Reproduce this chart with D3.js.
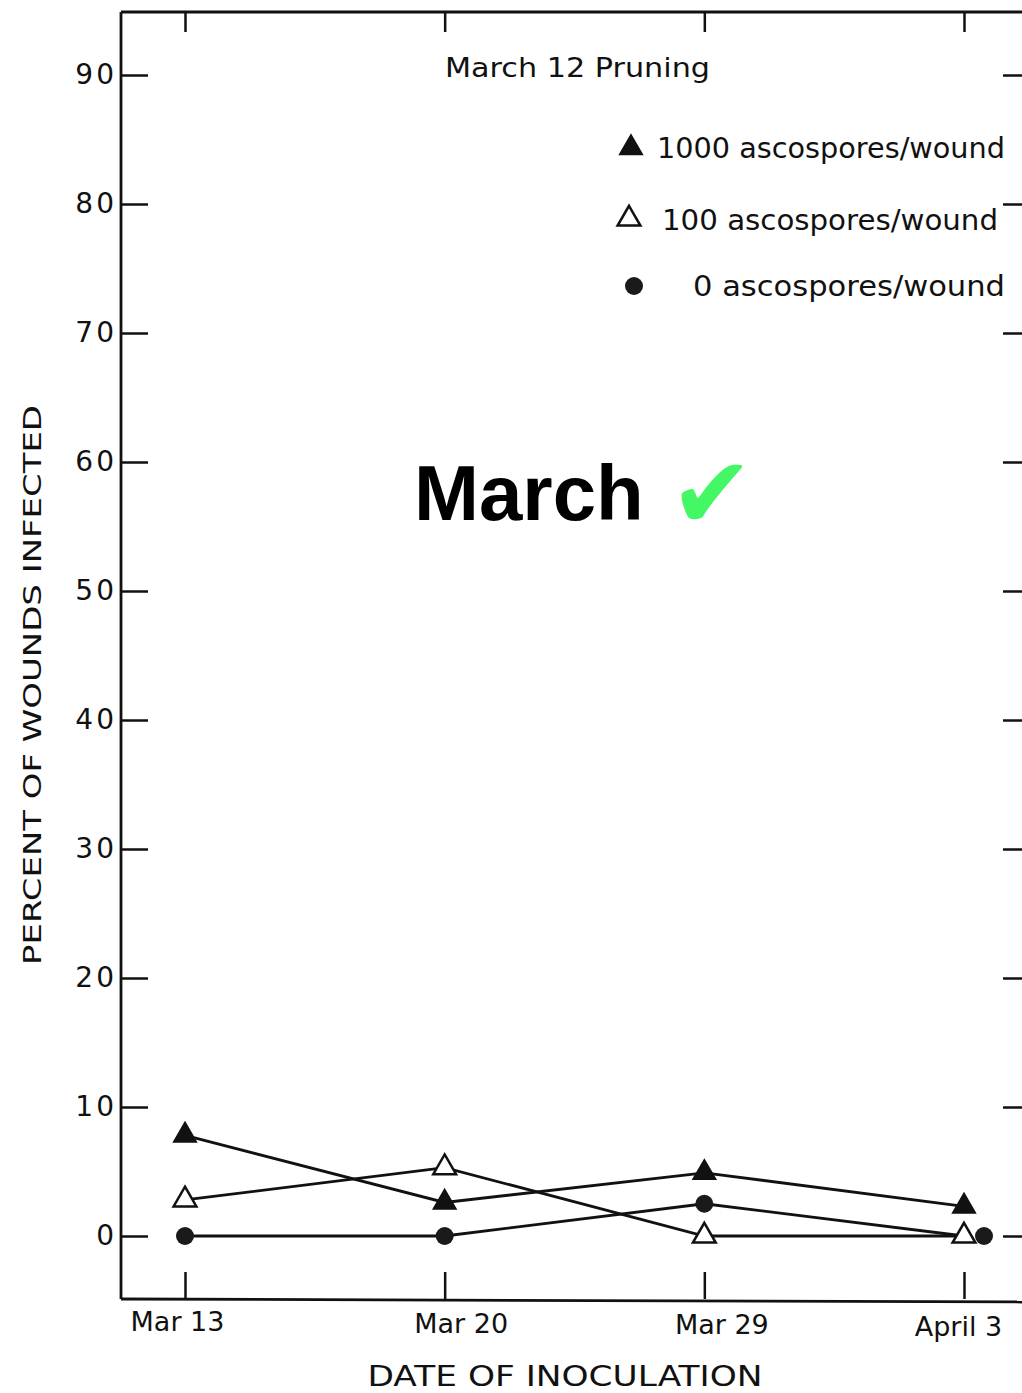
<!DOCTYPE html>
<html>
<head>
<meta charset="utf-8">
<script src="https://cdn.jsdelivr.net/npm/d3@7"></script>
<style>
  html, body { margin: 0; padding: 0; background: #fff; }
  svg { display: block; }
</style>
</head>
<body>
<svg id="chart" width="1022" height="1393"></svg>
<script>
// ---- data ----
const dates = ["Mar 13", "Mar 20", "Mar 29", "April 3"];
const yTicks = [0, 10, 20, 30, 40, 50, 60, 70, 80, 90];
const s1000 = [7.8, 2.6, 4.9, 2.3];
const s100 = [2.8, 5.3, 0, 0];
const s0 = [0, 0, 2.5, 0];
const seriesNames = ["1000 ascospores/wound", "100 ascospores/wound", "0 ascospores/wound"];
const title = "March 12  Pruning";
const yTitle = "PERCENT OF WOUNDS INFECTED";
const xTitle = "DATE  OF  INOCULATION";
const stamp = "March";

const svg = d3.select("#chart");
const font = "'DejaVu Sans', sans-serif";
const L = 121, R = 1026, T = 12, B = 1299;

const x = d3.scalePoint().domain(dates).range([185, 964]);
const y = d3.scaleLinear().domain([0, 90]).range([1236, 75]);

// frame
svg.append("line").attr("x1", L).attr("x2", L).attr("y1", T).attr("y2", B)
  .attr("stroke", "#111").attr("stroke-width", 2.8);
svg.append("line").attr("x1", L).attr("x2", R).attr("y1", T).attr("y2", T)
  .attr("stroke", "#111").attr("stroke-width", 2.8);
svg.append("line").attr("x1", L).attr("x2", R).attr("y1", B).attr("y2", B + 3)
  .attr("stroke", "#111").attr("stroke-width", 2.8);

// left axis
const gL = svg.append("g").attr("transform", `translate(${L},0)`)
  .call(d3.axisLeft(y).tickValues(yTicks).tickSize(-27).tickPadding(4));
gL.select(".domain").remove();
gL.selectAll(".tick line").attr("stroke", "#111").attr("stroke-width", 2.5);
gL.selectAll(".tick text").attr("font-family", font).attr("font-size", 28)
  .attr("letter-spacing", 3).attr("fill", "#111");

// right axis (ticks only)
const gR = svg.append("g").attr("transform", `translate(${R},0)`)
  .call(d3.axisRight(y).tickValues(yTicks).tickSize(-23).tickFormat(""));
gR.select(".domain").remove();
gR.selectAll(".tick line").attr("stroke", "#111").attr("stroke-width", 2.5);

// top ticks
const gT = svg.append("g").attr("transform", `translate(0,${T})`)
  .call(d3.axisTop(x).tickSize(-20).tickFormat(""));
gT.select(".domain").remove();
gT.selectAll(".tick line").attr("stroke", "#111").attr("stroke-width", 2.5);

// bottom axis
const labelDx = [-8, 16, 17, -6];
const gB = svg.append("g").attr("transform", `translate(0,${B})`)
  .call(d3.axisBottom(x).tickSize(-27).tickPadding(14));
gB.select(".domain").remove();
gB.selectAll(".tick line").attr("stroke", "#111").attr("stroke-width", 2.5);
gB.selectAll(".tick text").attr("font-family", font).attr("font-size", 27)
  .attr("fill", "#111").attr("dx", (d, i) => labelDx[i]).attr("dy", "0.71em")
  .attr("y", (d, i) => 13 + i * 1.5);

// titles
svg.append("text").attr("x", 445).attr("y", 77).text(title)
  .attr("font-family", font).attr("font-size", 26).attr("fill", "#111")
  .attr("textLength", 265).attr("lengthAdjust", "spacingAndGlyphs");

svg.append("text").attr("transform", "translate(41,685) rotate(-90)")
  .attr("text-anchor", "middle").text(yTitle)
  .attr("font-family", font).attr("font-size", 25).attr("fill", "#111")
  .attr("textLength", 560).attr("lengthAdjust", "spacingAndGlyphs");

svg.append("text").attr("x", 565).attr("y", 1386).attr("text-anchor", "middle").text(xTitle)
  .attr("font-family", font).attr("font-size", 28).attr("fill", "#111")
  .attr("textLength", 395).attr("lengthAdjust", "spacingAndGlyphs");

// markers
const triUp = d3.symbol().type(d3.symbolTriangle).size(225);
function drawMarker(g, kind, cx, cy) {
  if (kind === "filledTri") {
    g.append("path").attr("d", triUp()).attr("transform", `translate(${cx},${cy})`)
      .attr("fill", "#111").attr("stroke", "#111").attr("stroke-width", 1.5);
  } else if (kind === "openTri") {
    g.append("path").attr("d", triUp()).attr("transform", `translate(${cx},${cy})`)
      .attr("fill", "#fff").attr("stroke", "#111").attr("stroke-width", 2.5);
  } else {
    g.append("circle").attr("cx", cx).attr("cy", cy).attr("r", 9)
      .attr("fill", "#1a1a1a");
  }
}

const series = [
  { vals: s1000, kind: "filledTri" },
  { vals: s100, kind: "openTri" },
  { vals: s0, kind: "dot" }
];
const line = d3.line().x((d, i) => x(dates[i])).y(d => y(d));
const gLines = svg.append("g");
const gMarks = svg.append("g");
series.forEach(s => {
  gLines.append("path").datum(s.vals).attr("d", line)
    .attr("fill", "none").attr("stroke", "#111").attr("stroke-width", 2.8);
});
series.forEach((s, si) => {
  s.vals.forEach((v, i) => {
    // dodge the overlapping final dot so it sits beside the open triangle
    const dodge = (si === 2 && i === dates.length - 1) ? 20 : 0;
    drawMarker(gMarks, s.kind, x(dates[i]) + dodge, y(v));
  });
});

// legend
const legRows = [
  { kind: "filledTri", mx: 631, my: 148, tx: 657, ty: 158, tl: 348 },
  { kind: "openTri", mx: 629, my: 219, tx: 662, ty: 230, tl: 336 },
  { kind: "dot", mx: 634, my: 286, tx: 693, ty: 296, tl: 312 }
];
const gLeg = svg.append("g");
legRows.forEach((r, i) => {
  drawMarker(gLeg, r.kind, r.mx, r.my);
  gLeg.append("text").attr("x", r.tx).attr("y", r.ty).text(seriesNames[i])
    .attr("font-family", font).attr("font-size", 28).attr("fill", "#111")
    .attr("textLength", r.tl).attr("lengthAdjust", "spacingAndGlyphs");
});

// stamp overlay
const st = svg.append("text").attr("x", 414).attr("y", 520)
  .attr("font-family", "'Liberation Sans', Arial, sans-serif").attr("font-weight", "bold")
  .attr("font-size", 78).attr("fill", "#000");
st.append("tspan").text(stamp);
st.append("tspan").attr("x", 670).attr("y", 528).attr("font-family", "'DejaVu Sans', sans-serif")
  .attr("font-size", 100).attr("fill", "#44f765").text("\u2714");
</script>
</body>
</html>
